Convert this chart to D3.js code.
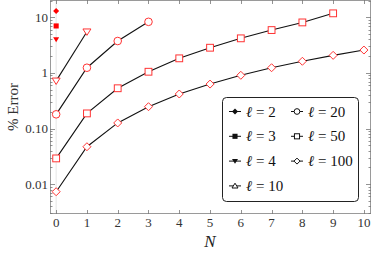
<!DOCTYPE html>
<html>
<head>
<meta charset="utf-8">
<script src="https://cdn.jsdelivr.net/npm/d3@7"></script>
<style>
body { margin: 0; background: #fff; }
</style>
</head>
<body>
<script>
w = 374;
h = 254;
margin = {top: 0, right: 3, bottom: 40, left: 50};
serif = "'Liberation Serif', 'DejaVu Serif', serif";

// data: % error vs N for each ell
ells = ["2", "3", "4", "10", "20", "50", "100"];
err2 = [13.0];
err3 = [7.0];
err4 = [4.0];
err10 = [0.72, 5.5];
err20 = [0.18, 1.24, 3.75, 8.3];
err50 = [0.029, 0.187, 0.53, 1.05, 1.83, 2.84, 4.19, 5.9, 8.1, 11.8];
err100 = [0.0073, 0.047, 0.126, 0.247, 0.418, 0.63, 0.906, 1.24, 1.62, 2.07, 2.58];
symbols = ["diamondF", "squareF", "triDownF", "triUp", "circle", "square", "diamond"];
// markers drawn on the chart use down-triangles for ell=10
plotSymbols = ["diamondF", "squareF", "triDownF", "triDown", "circle", "square", "diamond"];
xTicks = [0, 1, 2, 3, 4, 5, 6, 7, 8, 9, 10];
yTicks = [0.01, 0.1, 1, 10];
yTickLabels = ["0.01", "0.10", "1", "10"];

series = [err2, err3, err4, err10, err20, err50, err100];

svg = d3.select("body").append("svg")
  .attr("width", w).attr("height", h);

x = d3.scaleLinear().domain([-0.2, 10.23]).range([margin.left, w - margin.right]);
y = d3.scaleLog().domain([0.0029, 20.5]).range([h - margin.bottom, margin.top]);

x0 = margin.left, x1 = w - margin.right, y0 = h - margin.bottom, y1 = margin.top;

// faint line at N = 0
svg.append("line")
  .attr("x1", x(0)).attr("x2", x(0)).attr("y1", y0).attr("y2", y1)
  .attr("stroke", "#e6e6e6").attr("stroke-width", 1);

// frame
svg.append("rect")
  .attr("x", x0 + 0.5).attr("y", y1 + 0.5)
  .attr("width", x1 - x0 - 1).attr("height", y0 - y1 - 1)
  .attr("fill", "none").attr("stroke", "#9a9a9a").attr("stroke-width", 1);

// minor y ticks
minor = [];
for (var e = -3; e <= 1; e++) {
  for (var m = 1; m <= 9; m++) {
    var v = m * Math.pow(10, e);
    if (v >= 0.0029 && v <= 20.5) minor.push({v: v, major: m == 1});
  }
}
tk = svg.append("g").attr("stroke", "#777").attr("stroke-width", 0.8);
minor.forEach(function(t) {
  var len = t.major ? 5 : 2.5;
  var yy = Math.round(y(t.v)) + 0.5;
  tk.append("line").attr("x1", x0).attr("x2", x0 + len).attr("y1", yy).attr("y2", yy);
  tk.append("line").attr("x1", x1).attr("x2", x1 - len).attr("y1", yy).attr("y2", yy);
});
xTicks.forEach(function(t) {
  var xx = Math.round(x(t)) + 0.5;
  tk.append("line").attr("x1", xx).attr("x2", xx).attr("y1", y0).attr("y2", y0 - 4);
  tk.append("line").attr("x1", xx).attr("x2", xx).attr("y1", y1).attr("y2", y1 + 4);
});

// tick labels
svg.append("g").selectAll("text").data(xTicks).enter().append("text")
  .attr("x", d => x(d)).attr("y", y0 + 12.5)
  .attr("text-anchor", "middle").attr("font-size", 13).attr("font-family", serif).attr("fill", "#333")
  .text(d => d);
svg.append("g").selectAll("text").data(yTicks).enter().append("text")
  .attr("x", x0 - 2).attr("y", d => y(d) + 4.5)
  .attr("text-anchor", "end").attr("font-size", 13).attr("font-family", serif).attr("fill", "#333")
  .text((d, i) => yTickLabels[i]);

// axis titles
svg.append("text")
  .attr("x", x(5)).attr("y", 247)
  .attr("text-anchor", "middle").attr("font-size", 17).attr("font-style", "italic")
  .attr("font-family", serif).attr("fill", "#222").text("N");
svg.append("text")
  .attr("transform", "translate(18," + ((y0 + y1) / 2) + ") rotate(-90)")
  .attr("text-anchor", "middle").attr("font-size", 15).attr("font-family", serif).attr("fill", "#333")
  .text("% Error");

// marker shapes
function marker(g, kind, cx, cy, col, s) {
  var filled = kind.endsWith("F");
  var base = kind.replace("F", "");
  var el;
  if (base == "circle") {
    el = g.append("circle").attr("cx", cx).attr("cy", cy).attr("r", s * 0.95);
  } else if (base == "square") {
    el = g.append("rect").attr("x", cx - s * 0.85).attr("y", cy - s * 0.85)
      .attr("width", s * 1.7).attr("height", s * 1.7);
  } else if (base == "diamond") {
    el = g.append("path").attr("d", "M" + cx + "," + (cy - s) + "L" + (cx + s) + "," + cy +
      "L" + cx + "," + (cy + s) + "L" + (cx - s) + "," + cy + "Z");
  } else if (base == "triDown") {
    el = g.append("path").attr("d", "M" + (cx - s) + "," + (cy - s * 0.7) + "L" + (cx + s) + "," + (cy - s * 0.7) +
      "L" + cx + "," + (cy + s * 0.9) + "Z");
  } else if (base == "triUp") {
    el = g.append("path").attr("d", "M" + (cx - s) + "," + (cy + s * 0.7) + "L" + (cx + s) + "," + (cy + s * 0.7) +
      "L" + cx + "," + (cy - s * 0.9) + "Z");
  }
  if (filled) el.attr("fill", col).attr("stroke", "none");
  else el.attr("fill", "#fff").attr("stroke", col).attr("stroke-width", 1);
}

line = d3.line().x((d, i) => x(i)).y(d => y(d));

series.forEach(function(s, k) {
  if (s.length > 1) {
    svg.append("path").datum(s)
      .attr("d", line).attr("fill", "none")
      .attr("stroke", "#111").attr("stroke-width", 1.1);
  }
});
series.forEach(function(s, k) {
  var g = svg.append("g");
  s.forEach(function(v, i) {
    var sz = (k < 3) ? 3 : 4;
    marker(g, plotSymbols[k], x(i), y(v), k < 3 ? "#f00" : "#f33", sz);
  });
});

// legend
lg = svg.append("g");
lg.append("rect")
  .attr("x", 222.5).attr("y", 97.5).attr("width", 136).attr("height", 104)
  .attr("rx", 4).attr("fill", "#fff").attr("stroke", "#222").attr("stroke-width", 1);
ells.forEach(function(l, i) {
  var col = i < 4 ? 0 : 1;
  var row = i < 4 ? i : i - 4;
  var lx = col == 0 ? 235 : 297;
  var ly = 111.5 + row * 24.8;
  lg.append("line").attr("x1", lx - 6).attr("x2", lx + 6).attr("y1", ly).attr("y2", ly)
    .attr("stroke", "#111").attr("stroke-width", 1);
  marker(lg, symbols[i], lx, ly, "#111", 3);
  lg.append("text").attr("x", lx + 11).attr("y", ly + 5)
    .attr("font-size", 15).attr("font-family", serif).attr("fill", "#111")
    .html("<tspan font-style='italic'>ℓ</tspan> = " + l);
});
</script>
</body>
</html>
